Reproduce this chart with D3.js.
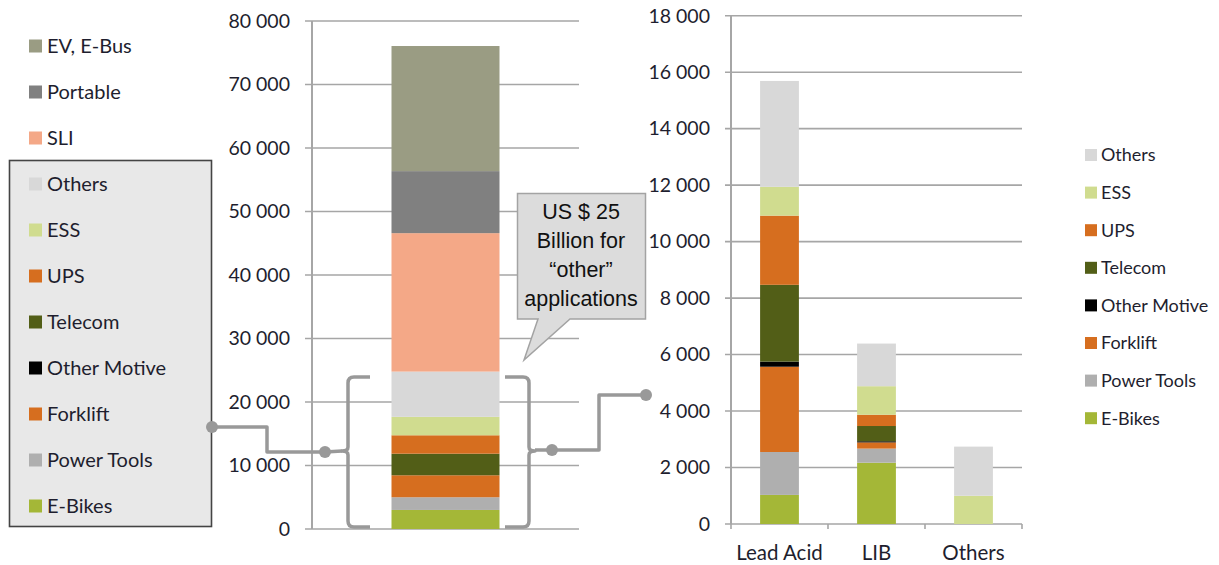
<!DOCTYPE html>
<html>
<head>
<meta charset="utf-8">
<script src="https://cdn.jsdelivr.net/npm/d3@7"></script>
<style>
  body { margin: 0; background: #fff; }
  text { font-family: Lato, "Open Sans", sans-serif; fill: #1e1e2e; }
</style>
</head>
<body>
<svg id="viz" width="1219" height="565"></svg>
<script>
// left chart: whole market, one stacked bar (bottom to top)
var leftKeys = ["E-Bikes", "Power Tools", "Forklift", "Other Motive", "Telecom", "UPS", "ESS", "Others", "SLI", "Portable", "EV, E-Bus"];
var leftValues = [3000, 2000, 3460, 0, 3400, 2900, 2900, 7130, 21800, 9770, 19700];
var leftTicks = [0, 10000, 20000, 30000, 40000, 50000, 60000, 70000, 80000];

// right chart: "other" applications by chemistry
var categories = ["Lead Acid", "LIB", "Others"];
var rightKeys = ["E-Bikes", "Power Tools", "Forklift", "Other Motive", "Telecom", "UPS", "ESS", "Others"];
var eBikes = [1030, 2170, 0];
var powerTools = [1520, 500, 0];
var forklift = [3020, 220, 0];
var otherMotive = [180, 40, 0];
var telecom = [2720, 540, 0];
var ups = [2450, 400, 0];
var ess = [1020, 1010, 1000];
var others = [3750, 1510, 1740];
var rightTicks = [0, 2000, 4000, 6000, 8000, 10000, 12000, 14000, 16000, 18000];

var calloutLines = ["US $ 25", "Billion for", "\u201cother\u201d", "applications"];

var colors = {
  "EV, E-Bus": "#9a9c83",
  "Portable": "#808080",
  "SLI": "#f4a887",
  "Others": "#d8d8d8",
  "ESS": "#d0dc8f",
  "UPS": "#d66e1f",
  "Telecom": "#525e17",
  "Other Motive": "#000000",
  "Forklift": "#d66e1f",
  "Power Tools": "#afafaf",
  "E-Bikes": "#a4b737"
};

var svg = d3.select("#viz");
var grid = "#a6a6a6";
var fmt = function(d) { return d3.format(",")(d).replace(/,/g, " "); };

// ---------- left chart ----------
var ly = d3.scaleLinear().domain([0, 80000]).range([529, 21]);
var lx = d3.scaleBand().domain(["all"]).range([312, 579]).padding(0.424);

var lg = svg.append("g");
lg.selectAll("line.grid").data(leftTicks).enter().append("line")
  .attr("x1", 305).attr("x2", 579)
  .attr("y1", function(d) { return ly(d); }).attr("y2", function(d) { return ly(d); })
  .attr("stroke", grid).attr("stroke-width", 1.6);
lg.append("line").attr("x1", 312).attr("x2", 312).attr("y1", ly(80000)).attr("y2", ly(0))
  .attr("stroke", grid).attr("stroke-width", 2);
lg.selectAll("text.tick").data(leftTicks).enter().append("text")
  .attr("x", 290).attr("y", function(d) { return ly(d); }).attr("dy", "0.35em")
  .attr("text-anchor", "end").style("font-size", "19.5px").text(fmt);

var leftRow = {};
leftKeys.forEach(function(k, i) { leftRow[k] = leftValues[i]; });
var leftStack = d3.stack().keys(leftKeys)([leftRow]);
lg.selectAll("rect").data(leftStack).enter().append("rect")
  .attr("x", lx("all")).attr("width", lx.bandwidth())
  .attr("y", function(s) { return ly(s[0][1]); })
  .attr("height", function(s) { return ly(s[0][0]) - ly(s[0][1]); })
  .attr("fill", function(s) { return colors[s.key]; });

// left legend (top to bottom is reverse of stack)
var legendBox = svg.append("rect").attr("x", 9.5).attr("y", 160.5).attr("width", 202).attr("height", 366)
  .attr("fill", "#e8e8e8").attr("stroke", "#444").attr("stroke-width", 1.6);
var lleg = svg.append("g").selectAll("g").data(leftKeys.slice().reverse()).enter().append("g")
  .attr("transform", function(d, i) { return "translate(29," + (46 + i * 46) + ")"; });
lleg.append("rect").attr("x", 0).attr("y", -6.5).attr("width", 13).attr("height", 13)
  .attr("fill", function(d) { return colors[d]; });
lleg.append("text").attr("x", 18).attr("dy", "0.36em").style("font-size", "20px").text(function(d) { return d; });

// ---------- right chart ----------
var ry = d3.scaleLinear().domain([0, 18000]).range([524, 15.7]);
var rx = d3.scaleBand().domain(categories).range([731, 1022]).paddingInner(0.6).paddingOuter(0.3);

var rg = svg.append("g");
rg.selectAll("line.grid").data(rightTicks).enter().append("line")
  .attr("x1", 725).attr("x2", 1022)
  .attr("y1", function(d) { return ry(d); }).attr("y2", function(d) { return ry(d); })
  .attr("stroke", grid).attr("stroke-width", 1.6);
rg.append("line").attr("x1", 731).attr("x2", 731).attr("y1", ry(18000)).attr("y2", ry(0))
  .attr("stroke", grid).attr("stroke-width", 2);
var xTickPos = [731].concat(categories.map(function(c) { return rx(c) - rx.step() * rx.paddingInner() / 2 + rx.step(); }));
rg.selectAll("line.xt").data(xTickPos).enter().append("line")
  .attr("x1", function(d) { return d; }).attr("x2", function(d) { return d; })
  .attr("y1", ry(0)).attr("y2", ry(0) + 5).attr("stroke", grid).attr("stroke-width", 1.6);
rg.selectAll("text.tick").data(rightTicks).enter().append("text")
  .attr("x", 710).attr("y", function(d) { return ry(d); }).attr("dy", "0.35em")
  .attr("text-anchor", "end").style("font-size", "19.5px").text(fmt);
rg.selectAll("text.cat").data(categories).enter().append("text")
  .attr("x", function(d) { return rx(d) + rx.bandwidth() / 2; }).attr("y", 553).attr("dy", "0.35em")
  .attr("text-anchor", "middle").style("font-size", "20.5px").text(function(d) { return d; });

var series = [eBikes, powerTools, forklift, otherMotive, telecom, ups, ess, others];
var rows = categories.map(function(c, i) {
  var r = { cat: c };
  rightKeys.forEach(function(k, j) { r[k] = series[j][i]; });
  return r;
});
var rightStack = d3.stack().keys(rightKeys)(rows);
rg.selectAll("g.layer").data(rightStack).enter().append("g")
  .attr("fill", function(s) { return colors[s.key]; })
  .selectAll("rect").data(function(s) { return s; }).enter().append("rect")
  .attr("x", function(d) { return rx(d.data.cat); }).attr("width", rx.bandwidth())
  .attr("y", function(d) { return ry(d[1]); })
  .attr("height", function(d) { return ry(d[0]) - ry(d[1]); });

var rleg = svg.append("g").selectAll("g").data(rightKeys.slice().reverse()).enter().append("g")
  .attr("transform", function(d, i) { return "translate(1085," + (155 + i * 37.6) + ")"; });
rleg.append("rect").attr("x", 0).attr("y", -6).attr("width", 12).attr("height", 12)
  .attr("fill", function(d) { return colors[d]; });
rleg.append("text").attr("x", 16).attr("dy", "0.36em").style("font-size", "18px").text(function(d) { return d; });

// ---------- brackets and connectors ----------
var conn = svg.append("g").attr("fill", "none").attr("stroke", "#999").attr("stroke-width", 3.5)
  .attr("stroke-linejoin", "round");
var yMid = 451;
conn.append("path").attr("d", "M370,377 L354,377 Q348,377 348,383 L348," + (yMid - 4) +
  " Q348," + yMid + " 342," + yMid + " Q348," + yMid + " 348," + (yMid + 4) +
  " L348,521 Q348,527 354,527 L370,527");
conn.append("path").attr("d", "M505,377 L523,377 Q529,377 529,383 L529," + (yMid - 4) +
  " Q529," + yMid + " 535," + yMid + " Q529," + yMid + " 529," + (yMid + 4) +
  " L529,521 Q529,527 523,527 L505,527");
conn.append("path").attr("d", "M212,427 L267,427 L267,452 L325,452 L342,451");
conn.append("path").attr("d", "M535,450 L599,450 L599,395 L646,395");
svg.selectAll("circle.dot").data([[212, 427], [325, 452], [552, 450], [646, 395]]).enter().append("circle")
  .attr("cx", function(d) { return d[0]; }).attr("cy", function(d) { return d[1]; }).attr("r", 6)
  .attr("fill", "#999");

// ---------- callout ----------
var co = svg.append("g");
co.append("path").attr("d", "M517.5,193.5 L645.5,193.5 L645.5,319 L570,319 L524,360 L538,319 L517.5,319 Z")
  .attr("fill", "#dcdcdc").attr("stroke", "#a3a3a3").attr("stroke-width", 1.5);
co.selectAll("text").data(calloutLines).enter().append("text")
  .attr("x", 581).attr("y", function(d, i) { return 211 + i * 29; }).attr("dy", "0.35em")
  .attr("text-anchor", "middle")
  .style("font-family", "'Liberation Sans', Arial, sans-serif").style("font-size", "21.5px")
  .style("fill", "#111")
  .text(function(d) { return d; });
</script>
</body>
</html>
